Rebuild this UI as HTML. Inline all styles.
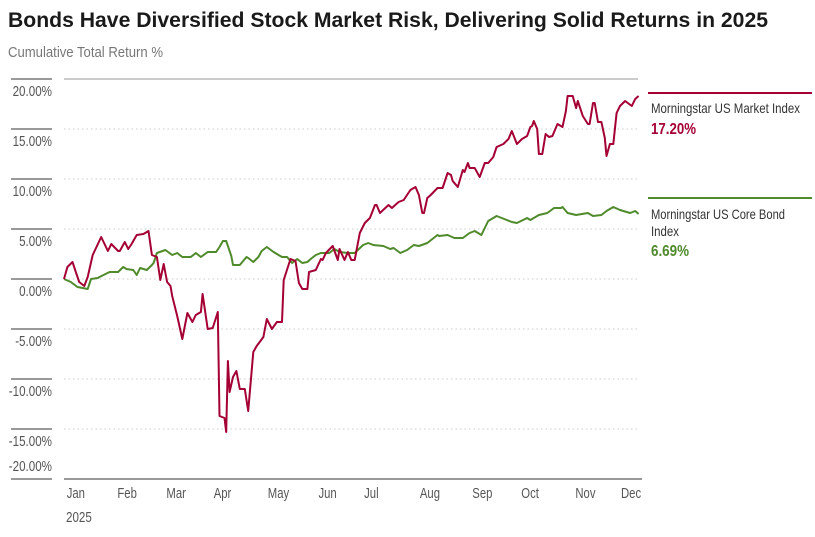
<!DOCTYPE html>
<html><head><meta charset="utf-8">
<style>
body{margin:0;background:#fff;width:815px;height:532px;overflow:hidden;font-family:"Liberation Sans",sans-serif;}
svg text{font-family:"Liberation Sans",sans-serif;}
</style></head><body>
<svg id="chart" width="815" height="532" xmlns="http://www.w3.org/2000/svg">
<text x="8" y="27" font-size="21" font-weight="bold" fill="#1a1a1a" textLength="760" lengthAdjust="spacingAndGlyphs">Bonds Have Diversified Stock Market Risk, Delivering Solid Returns in 2025</text>
<text x="8" y="57" font-size="14.5" fill="#777" textLength="155" lengthAdjust="spacingAndGlyphs">Cumulative Total Return %</text>
<g id="grid"></g>
<g id="series"></g>
<g>
<line x1="648" y1="93" x2="812" y2="93" stroke="#a50034" stroke-width="2"/>
<text x="651" y="113" font-size="14" fill="#333" textLength="149" lengthAdjust="spacingAndGlyphs">Morningstar US Market Index</text>
<text x="651" y="134" font-size="15.5" font-weight="bold" fill="#a50034" textLength="45" lengthAdjust="spacingAndGlyphs">17.20%</text>
<line x1="648" y1="198" x2="812" y2="198" stroke="#4f8a2b" stroke-width="2"/>
<text x="651" y="219" font-size="14" fill="#333" textLength="134" lengthAdjust="spacingAndGlyphs">Morningstar US Core Bond</text>
<text x="651" y="236" font-size="14" fill="#333" textLength="28" lengthAdjust="spacingAndGlyphs">Index</text>
<text x="651" y="256" font-size="15.5" font-weight="bold" fill="#4f8a2b" textLength="38" lengthAdjust="spacingAndGlyphs">6.69%</text>
</g>
</svg>
<script>
const yTicks=[20,15,10,5,0,-5,-10,-15,-20];
const yTickLabels=["20.00%","15.00%","10.00%","5.00%","0.00%","-5.00%","-10.00%","-15.00%","-20.00%"];
const months=["Jan","Feb","Mar","Apr","May","Jun","Jul","Aug","Sep","Oct","Nov","Dec"];
const monthDays=[1,31,60,88,120,150,177,210,241,270,302,329];
const marketDays=[0,2,5,7,9,12,14,17,22,26,28,32,33,36,38,40,43,47,50,52,55,57,59,61,63,64,67,70,73,76,78,81,82,85,88,91,92,95,96,97,98,100,102,104,107,109,112,114,118,120,123,126,129,130,134,137,139,141,144,145,149,152,153,155,159,162,163,166,168,170,172,175,178,181,184,185,187,192,194,198,201,205,208,210,212,213,215,217,221,224,227,229,230,233,236,237,239,240,243,246,249,251,254,256,260,263,265,268,271,274,276,277,278,280,281,283,285,287,289,292,295,297,298,301,303,304,307,310,311,313,314,316,318,320,321,323,325,327,329,332,336,338,340];
const marketVals=[0,1.2,1.7,0.7,-0.3,-0.7,0.2,2.4,4.2,2.8,3.5,2.8,2.8,3.7,3.0,3.5,4.4,4.5,4.8,2.4,2.2,-0.1,1.5,-0.3,-0.7,-1.7,-3.7,-6.0,-3.4,-4.3,-3.6,-3.3,-1.5,-5.0,-4.9,-3.3,-13.7,-13.9,-15.3,-8.2,-11.3,-9.8,-9.2,-11.0,-11.0,-13.2,-7.3,-6.7,-5.8,-4.0,-5.0,-4.3,-4.3,-0.1,2.0,1.8,-0.4,-1.0,-1.0,0.7,0.9,2.0,1.9,2.6,3.3,1.9,3.0,1.9,2.7,1.9,1.9,4.6,5.6,6.1,7.4,7.4,6.6,7.4,7.1,7.7,7.9,8.9,9.2,8.4,6.6,6.6,8.1,8.4,9.1,9.1,10.6,10.4,9.8,9.2,10.9,10.7,11.6,11.1,11.1,10.2,11.6,11.6,12.2,13.2,13.5,14.0,14.8,13.5,14.0,14.3,15.2,15.3,15.8,15.0,12.5,12.5,14.5,14.2,14.3,15.5,15.2,16.8,18.3,18.3,17.1,17.8,16.3,15.5,15.5,17.6,17.6,15.7,15.7,14.1,12.3,13.5,13.5,16.6,17.3,17.8,17.3,18.0,18.3,18.8,17.2];
const bondDays=[0,4,8,14,16,20,21,27,32,35,37,41,43,45,49,52,53,55,60,64,67,70,75,78,81,85,90,92,94,96,99,100,104,108,109,112,115,117,120,124,126,129,132,135,138,141,144,146,149,152,155,157,160,163,168,172,177,180,183,189,193,195,199,203,207,210,215,221,222,227,231,236,240,243,247,251,254,256,262,265,268,274,276,281,286,290,294,295,298,303,310,313,318,321,325,329,335,338,340];
const bondVals=[0,-0.3,-0.8,-1.0,0,0.1,0.2,0.7,0.7,1.2,1.0,0.9,0.4,1.1,0.9,1.4,1.6,2.6,2.9,2.4,2.6,2.2,2.2,2.6,2.2,2.7,2.7,3.2,3.8,3.8,2.3,1.4,1.4,2.2,2.1,1.7,2.2,2.8,3.2,2.7,2.5,2.2,2.2,1.6,2.0,1.6,1.7,2.0,2.4,2.6,2.6,2.6,3.0,2.7,2.6,2.6,3.4,3.6,3.4,3.3,3.0,3.1,2.6,2.9,3.4,3.3,3.6,4.4,4.3,4.4,4.1,4.1,4.6,4.8,4.4,5.8,6.1,6.3,5.9,5.7,5.6,6.1,5.9,6.4,6.6,7.1,7.1,7.2,6.6,6.4,6.6,6.3,6.4,6.8,7.2,6.9,6.6,6.8,6.5];
const X0=64,XPD=1.69,Y0=279,YPP=10,XR=638;
function xs(d){return X0+d*XPD;}
function ys(v){return Y0-v*YPP;}
const NS="http://www.w3.org/2000/svg";
const grid=document.getElementById('grid');
function mk(tag,attrs,parent){const e=document.createElementNS(NS,tag);for(const k in attrs)e.setAttribute(k,attrs[k]);parent.appendChild(e);return e;}
function squeeze(t,f){const w=t.getComputedTextLength();t.setAttribute('textLength',(w*f).toFixed(1));t.setAttribute('lengthAdjust','spacingAndGlyphs');}
yTicks.forEach((t,i)=>{
  const y=ys(t);
  if(t===20){
    const l=mk('line',{x1:X0,x2:XR,y1:y,y2:y,stroke:'#999','stroke-width':1},grid);
    
    
  } else if(t!==-20){
    const l=mk('line',{x1:X0,x2:XR,y1:y,y2:y,stroke:'#ccc','stroke-width':1,'stroke-dasharray':'1.5,3'},grid);
    
    
  }
  const tk=mk('line',{x1:11,x2:52,y1:y,y2:y,stroke:'#333','stroke-width':1},grid);
  
  
  const ty=t===-20?y-8:y+17;
  const tx=mk('text',{x:52,y:ty,'text-anchor':'end','font-size':14.5,fill:'#555'},grid);
  tx.textContent=yTickLabels[i];
  
  
  squeeze(tx,0.8);
});
const ax=mk('line',{x1:X0,x2:XR+4,y1:ys(-20),y2:ys(-20),stroke:'#999','stroke-width':2},grid);


months.forEach((m,i)=>{
  const t=mk('text',{x:xs(monthDays[i])+1,y:498,'font-size':14.5,fill:'#555'},grid);
  t.textContent=m;
  
  
  squeeze(t,0.78);
});
const yr=mk('text',{x:66,y:522,'font-size':14.5,fill:'#555'},grid);
yr.textContent='2025';


squeeze(yr,0.8);
const ser=document.getElementById('series');
function line(days,vals,color,name){
  const d=days.map((dd,i)=>(i?'L':'M')+xs(dd).toFixed(1)+','+ys(vals[i]).toFixed(1)).join('');
  const p=mk('path',{d:d,fill:'none',stroke:color,'stroke-width':2,'stroke-linejoin':'round'},ser);
  
  
}
line(bondDays,bondVals,'#4f8a2b','bond-index-line');
line(marketDays,marketVals,'#a50034','market-index-line');
</script>
</body></html>
